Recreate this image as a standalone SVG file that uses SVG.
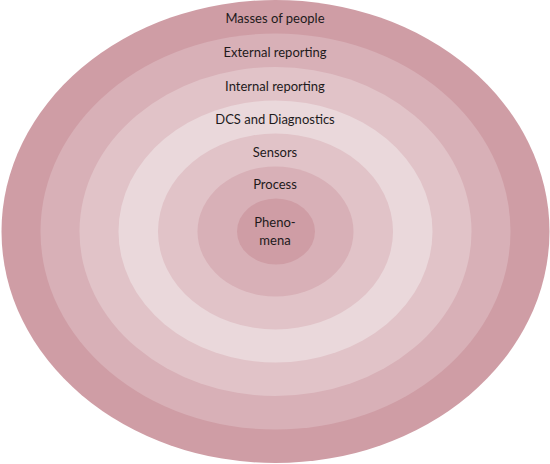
<svg xmlns="http://www.w3.org/2000/svg" width="550" height="464" viewBox="0 0 550 464">
<style>
.l{font-family:"Lato","Open Sans","Liberation Sans",sans-serif;font-size:13px;fill:#1e1a1b;text-anchor:middle}
.c1{fill:#CF9DA5}.c2{fill:#D8B0B7}.c3{fill:#E1C3C8}.c4{fill:#EAD8DB}
</style>
<rect width="550" height="464" fill="#ffffff"/>
<g id="masses"><ellipse class="c1" cx="275.5" cy="231.5" rx="274" ry="231.5"/><text class="l" x="275" y="23">Masses of people</text></g>
<g id="external"><ellipse class="c2" cx="275.5" cy="231.5" rx="235" ry="198"/><text class="l" x="275" y="57">External reporting</text></g>
<g id="internal"><ellipse class="c3" cx="275.5" cy="231.5" rx="196" ry="164.5"/><text class="l" x="275" y="91">Internal reporting</text></g>
<g id="dcs"><ellipse class="c4" cx="275.5" cy="231.5" rx="157" ry="131"/><text class="l" x="275" y="124">DCS and Diagnostics</text></g>
<g id="sensors"><ellipse class="c3" cx="275.5" cy="231.5" rx="117.5" ry="98"/><text class="l" x="275" y="157">Sensors</text></g>
<g id="process"><ellipse class="c2" cx="275.5" cy="231.5" rx="78" ry="65"/><text class="l" x="275" y="189">Process</text></g>
<g id="phenomena"><ellipse class="c1" cx="276" cy="231.5" rx="39" ry="33"/><text class="l" x="275" y="227">Pheno-</text><text class="l" x="275" y="245">mena</text></g>
<g id="connectors"/>
</svg>
